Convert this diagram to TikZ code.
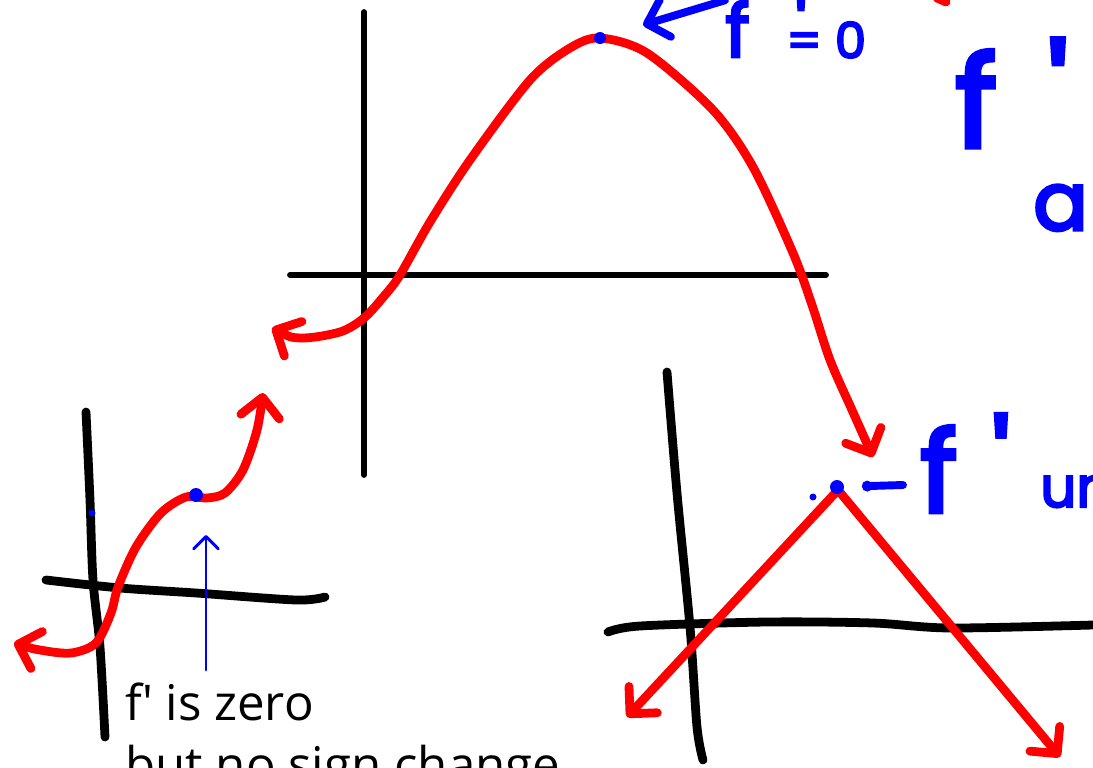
\documentclass[tikz,border=0pt]{standalone}
\usepackage{fontspec}
\setmainfont{Open Sans}
\newfontfamily\handfont{Poppins}[FakeBold=4]
\usetikzlibrary{arrows.meta}
\tikzset{>={Straight Barb[length=11pt,width=22pt,round]}}
\tikzset{
  axis/.style={line width=3.3pt, line cap=round},
  handaxis/.style={line width=5pt, line cap=round, line join=round},
  redcurve/.style={red, line width=5pt, line cap=round, line join=round},
  bluearrow/.style={blue, line width=4.5pt, line cap=round},
  hand/.style={blue, inner sep=0pt, anchor=base west, font=\handfont\fontsize{#1}{#1}\selectfont},
  note/.style={inner sep=0pt, anchor=base west, font=\fontsize{28}{34}\selectfont}
}

\begin{document}
\begin{tikzpicture}[x=0.02cm, y=-0.02cm]
\useasboundingbox (0,0) rectangle (1093,768);
\clip (0,0) rectangle (1093,768);
\draw[axis] (364,12) -- (364,475);
\draw[axis] (290,275) -- (826,275);
\draw[redcurve, <->] plot[smooth] coordinates {(272,328) (300,338) (340,332) (364,318) (385,295) (400,275) (430,222) (470,160) (530,80) (570,48) (600,38) (647,53) (713,110) (753,167) (793,253) (812,305) (830,360) (852,410) (873,457)};
\draw[redcurve] (937,-2) -- (946,2);
\draw[handaxis] plot[smooth] coordinates {(86,412) (90,500) (93,580) (100,647) (105,737)};
\draw[handaxis] plot[smooth] coordinates {(46,580) (120,588) (196,593) (296,600) (325,597)};
\draw[redcurve, <->] plot[smooth] coordinates {(14,643) (40,650) (71,653) (96,643) (111,613) (118,587) (136,547) (161,513) (186,497) (207,498) (225,493) (243,470) (257,430) (263,393)};
\draw[handaxis] plot[smooth] coordinates {(667,372) (677,493) (690,627) (697,727) (703,760)};
\draw[handaxis] plot[smooth] coordinates {(608,632) (640,626) (767,622) (873,623) (950,628) (1093,625)};
\draw[redcurve, <->] (627,717) -- (838,490) -- (1060,757);
\coordinate (maxpt) at (600,38);
\coordinate (flatpt) at (196,495);
\coordinate (cusppt) at (837,487);
\fill[blue] (maxpt) circle (6);
\fill[blue] (flatpt) circle (7);
\fill[blue] (92,513) circle (3.5);
\fill[blue] (cusppt) circle (7);
\fill[blue] (813,497) circle (3.5);
\node[hand=42] (fmax) at (725,57) {f};
\node[hand=40, anchor=center] (fmaxprime) at (801,24) {\textquotesingle};
\node[hand=28] (eqzero) at (786,58) {= 0};
\draw[bluearrow, ->, shorten >=0.9cm] (fmax.north west) -- (maxpt);
\node[hand=72] (fbig) at (955,147) {f};
\node[hand=72, anchor=center] (fbigprime) at (1058,89) {\textquotesingle};
\node[hand=46] (abig) at (1033,230) {a};
\node[hand=64] (fcusp) at (920,512) {f};
\node[hand=64, anchor=center] (fcuspprime) at (1001,459) {\textquotesingle};
\node[hand=32] (uncusp) at (1040,507) {un};
\coordinate (cusptail) at (903,485);
\draw[bluearrow, -{Circle[length=6pt]}, shorten >=0.5cm] (cusptail) -- (cusppt);
\node[note] (zeronote) at (125,720) {f\textquotesingle{} is zero};
\node[note] (signnote) at (125,782) {but no sign change};
\coordinate (flattail) at (206,670);
\draw[blue, line width=1.7pt, line cap=round, {Straight Barb[length=7pt,width=14pt,round]}-, shorten <=0.8cm] (flattail |- flatpt) -- (flattail);
\end{tikzpicture}
\end{document}
